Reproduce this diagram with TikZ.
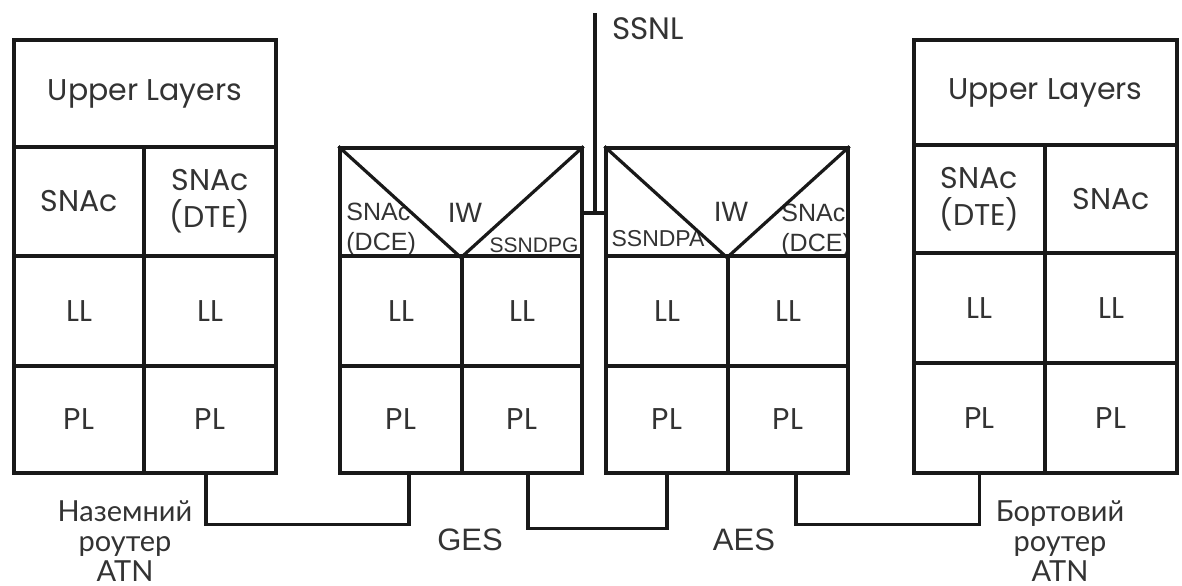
\documentclass[tikz,border=0pt]{standalone}
\usepackage{fontspec}
\setmainfont{Poppins}
\newfontfamily\cyrfont{Lato}
\newfontfamily\narfont{Liberation Sans}
\usetikzlibrary{fit,calc}
\newcommand\labfont{\fontsize{15}{18.5}\selectfont}
\newcommand\cellnode[4]{%
  \node[cell, fit={#2#3}] (#1) {};
  \node[lab] (#1-t) at (#1.center) {#4};}
\begin{document}
\begin{tikzpicture}[x=0.5pt,y=-0.5pt,
  cell/.style={draw=black!90, line width=1.6pt, inner sep=0pt},
  lab/.style={inner sep=0pt, align=center, font=\labfont, text=black!80},
  wire/.style={draw=black!90, line width=1.6pt},
  nar/.style={inner sep=0pt, text=black!80, align=left},
  cyrlab/.style={inner sep=0pt, align=center, text=black!80, font={\cyrfont\fontsize{14.5}{15}\selectfont}}]
\useasboundingbox[fill=white] (0,0) rectangle (1182,585);

% left stack: ground router
\cellnode{L-up}{(14,40)}{(276,147)}{Upper Layers}
\cellnode{L-s1}{(14,147)}{(144,256)}{SNAc}
\cellnode{L-s2}{(144,147)}{(276,256)}{SNAc\\(DTE)}
\cellnode{L-l1}{(14,256)}{(144,366)}{LL}
\cellnode{L-l2}{(144,256)}{(276,366)}{LL}
\cellnode{L-p1}{(14,366)}{(144,473)}{PL}
\cellnode{L-p2}{(144,366)}{(276,473)}{PL}

% right stack: airborne router
\cellnode{R-up}{(914,40)}{(1177,145)}{Upper Layers}
\cellnode{R-s1}{(914,145)}{(1045,253)}{SNAc\\(DTE)}
\cellnode{R-s2}{(1045,145)}{(1177,253)}{SNAc}
\cellnode{R-l1}{(914,253)}{(1045,363)}{LL}
\cellnode{R-l2}{(1045,253)}{(1177,363)}{LL}
\cellnode{R-p1}{(914,363)}{(1045,473)}{PL}
\cellnode{R-p2}{(1045,363)}{(1177,473)}{PL}

% GES
\begin{scope}
\clip (340,148) rectangle (582,256);
\node[nar, anchor=west, font={\narfont\fontsize{12.5}{15}\selectfont}] (G-snac) at (346,229) {SNAc\\(DCE)};
\node[nar, font={\narfont\fontsize{14}{14}\selectfont}] (G-iwt) at (465,213) {IW};
\node[nar, font={\narfont\fontsize{10.5}{10.5}\selectfont}] (G-ssnd) at (534,245) {SSNDPG};
\end{scope}
\node[cell, fit={(340,148)(582,256)}] (G-iw) {};
\draw[wire] (G-iw.north west) -- (G-iw.south) -- (G-iw.north east);
\cellnode{G-l1}{(340,256)}{(462,366)}{LL}
\cellnode{G-l2}{(462,256)}{(582,366)}{LL}
\cellnode{G-p1}{(340,366)}{(462,473)}{PL}
\cellnode{G-p2}{(462,366)}{(582,473)}{PL}

% AES
\begin{scope}
\clip (606,148) rectangle (848,256);
\node[nar, font={\narfont\fontsize{11.5}{11.5}\selectfont}] (A-ssnd) at (658,239) {SSNDPA};
\node[nar, font={\narfont\fontsize{14}{14}\selectfont}] (A-iwt) at (731,212) {IW};
\node[nar, anchor=west, font={\narfont\fontsize{12.5}{15}\selectfont}] (A-snac) at (781,230) {SNAc\\(DCE)};
\end{scope}
\node[cell, fit={(606,148)(848,256)}] (A-iw) {};
\draw[wire] (A-iw.north west) -- (A-iw.south) -- (A-iw.north east);
\cellnode{A-l1}{(606,256)}{(728,366)}{LL}
\cellnode{A-l2}{(728,256)}{(848,366)}{LL}
\cellnode{A-p1}{(606,366)}{(728,473)}{PL}
\cellnode{A-p2}{(728,366)}{(848,473)}{PL}

% SSNL
\coordinate (ssnl-top) at (595,13);
\coordinate (ssnl-j) at (595,213);
\draw[wire] (ssnl-top) -- (ssnl-j);
\draw[wire] (G-iw.east |- ssnl-j) -- (A-iw.west |- ssnl-j);
\node[inner sep=0pt, anchor=west, text=black!80, font=\fontsize{15.5}{15.5}\selectfont] (ssnl) at (612,29) {SSNL};

% subnetwork connections
\draw[wire] ([xshift=-2pt]L-p2.south) -- ++(0,50) -| ([xshift=4pt]G-p1.south);
\draw[wire] ([xshift=3pt]G-p2.south) -- ++(0,54) -| (A-p1.south);
\draw[wire] ([xshift=4pt]A-p2.south) -- ++(0,50) -| (R-p1.south);

% labels
\node[inner sep=0pt, text=black!80, font={\narfont\fontsize{15.5}{15.5}\selectfont}] (ges) at (470,540) {GES};
\node[inner sep=0pt, text=black!80, font={\narfont\fontsize{15.5}{15.5}\selectfont}] (aes) at (744,540) {AES};
\node[cyrlab] (gr) at (125,541) {Наземний\\роутер\\ATN};
\node[cyrlab] (ar) at (1060,541) {Бортовий\\роутер\\ATN};
\end{tikzpicture}
\end{document}
